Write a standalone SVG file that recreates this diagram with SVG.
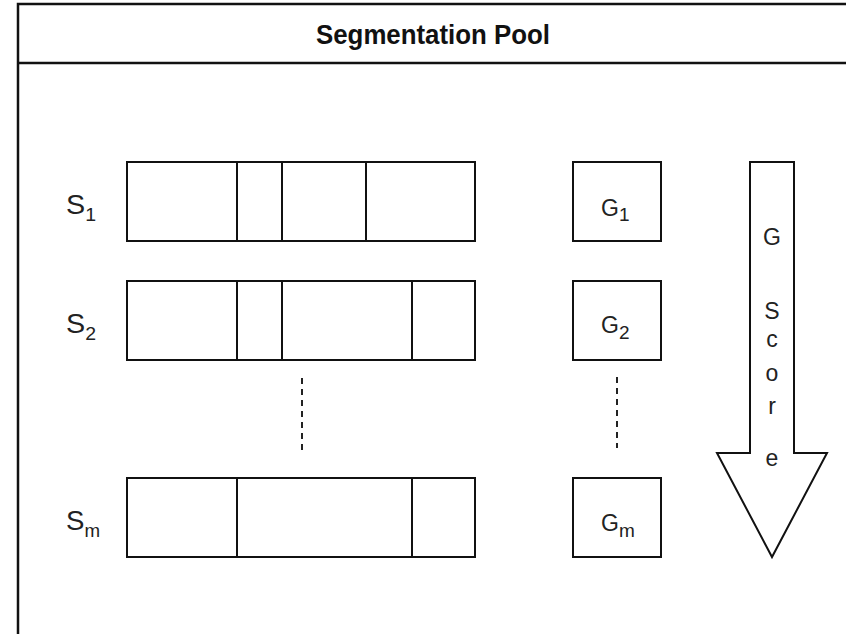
<svg xmlns="http://www.w3.org/2000/svg" width="846" height="634" viewBox="0 0 846 634">
  <style>
    .frame { fill: none; stroke: #111; stroke-width: 2.5; }
    .box { fill: #fff; stroke: #111; stroke-width: 2; }
    .div { stroke: #111; stroke-width: 2; }
    .dash { stroke: #222; stroke-width: 2; stroke-dasharray: 6 5; }
    .title { font-family: "Liberation Sans", Arial, sans-serif; font-weight: bold; font-size: 27px; fill: #111; }
    .lbl { font-family: "Liberation Sans", Arial, sans-serif; fill: #222; }
    .big { font-size: 28px; }
    .mid { font-size: 23px; }
    .sub { font-size: 19px; }
  </style>
  <rect width="846" height="634" fill="#fff"/>

  <!-- pool frame with header -->
  <g id="pool">
    <path class="frame" d="M18 634 V4 H846"/>
    <line class="frame" x1="18" y1="63" x2="846" y2="63"/>
    <text class="title" x="316" y="44" textLength="234" lengthAdjust="spacingAndGlyphs">Segmentation Pool</text>
  </g>

  <!-- segmentations -->
  <g id="s1">
    <rect class="box" x="127" y="162" width="348" height="79"/>
    <line class="div" x1="237" y1="162" x2="237" y2="241"/>
    <line class="div" x1="282" y1="162" x2="282" y2="241"/>
    <line class="div" x1="366" y1="162" x2="366" y2="241"/>
    <text class="lbl big" x="66" y="214" textLength="30" lengthAdjust="spacingAndGlyphs">S<tspan class="sub" dy="7">1</tspan></text>
  </g>
  <g id="s2">
    <rect class="box" x="127" y="281" width="348" height="79"/>
    <line class="div" x1="237" y1="281" x2="237" y2="360"/>
    <line class="div" x1="282" y1="281" x2="282" y2="360"/>
    <line class="div" x1="412" y1="281" x2="412" y2="360"/>
    <text class="lbl big" x="66" y="333" textLength="30" lengthAdjust="spacingAndGlyphs">S<tspan class="sub" dy="7">2</tspan></text>
  </g>
  <g id="sm">
    <rect class="box" x="127" y="478" width="348" height="79"/>
    <line class="div" x1="237" y1="478" x2="237" y2="557"/>
    <line class="div" x1="412" y1="478" x2="412" y2="557"/>
    <text class="lbl big" x="66" y="530" textLength="34" lengthAdjust="spacingAndGlyphs">S<tspan class="sub" dy="7">m</tspan></text>
  </g>

  <!-- scores -->
  <g id="g1">
    <rect class="box" x="573" y="162" width="88" height="79"/>
    <text class="lbl mid" x="601" y="216">G<tspan class="sub" dy="5">1</tspan></text>
  </g>
  <g id="g2">
    <rect class="box" x="573" y="281" width="88" height="79"/>
    <text class="lbl mid" x="601" y="333">G<tspan class="sub" dy="6">2</tspan></text>
  </g>
  <g id="gm">
    <rect class="box" x="573" y="478" width="88" height="79"/>
    <text class="lbl mid" x="601" y="531">G<tspan class="sub" dy="6">m</tspan></text>
  </g>

  <!-- ellipsis connectors -->
  <g id="connectors">
    <line class="dash" x1="302" y1="378" x2="302" y2="450"/>
    <line class="dash" x1="617" y1="377" x2="617" y2="448"/>
  </g>

  <!-- score ordering arrow -->
  <g id="gscore">
    <path class="box" d="M750 162 H794 V453 H827 L772 557 L717 453 H750 Z"/>
    <g class="lbl mid" text-anchor="middle">
      <text x="772" y="245">G</text>
      <text x="772" y="319">S</text>
      <text x="772" y="347">c</text>
      <text x="772" y="381">o</text>
      <text x="772" y="414">r</text>
      <text x="772" y="466">e</text>
    </g>
  </g>
</svg>
